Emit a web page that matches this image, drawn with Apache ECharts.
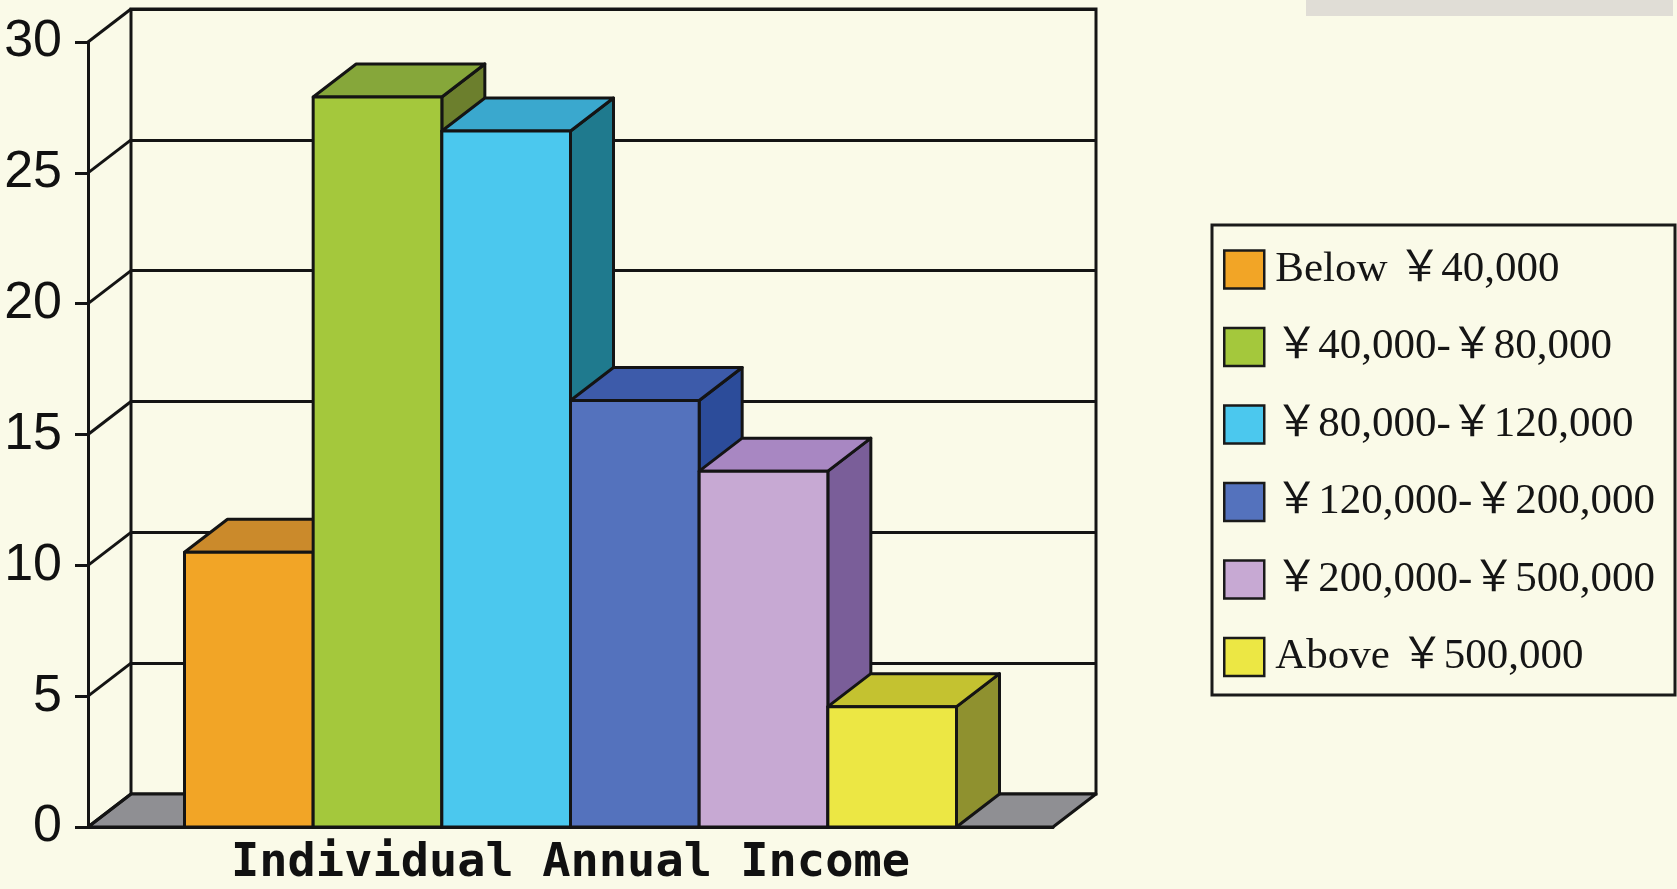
<!DOCTYPE html>
<html>
<head>
<meta charset="utf-8">
<style>
  html, body { margin: 0; padding: 0; background: #FAFAE8; }
  #chart { width: 1677px; height: 889px; }
</style>
<script src="https://cdn.jsdelivr.net/npm/echarts@6/dist/echarts.min.js"></script>
</head>
<body>
<div id="chart"></div>
<script>
// Share of respondents (%) by individual annual income bracket
const categories = ['Individual Annual Income'];
const seriesNames = [
  'Below ￥40,000',
  '￥40,000-￥80,000',
  '￥80,000-￥120,000',
  '￥120,000-￥200,000',
  '￥200,000-￥500,000',
  'Above ￥500,000'
];
const shares = [10.5, 27.9, 26.6, 16.3, 13.6, 4.6];
const yTicks = [0, 5, 10, 15, 20, 25, 30];

// face colours of each box: front, top, right side
const frontColors = ['#F2A526', '#A4C83C', '#4BC8EE', '#5472BD', '#C7A9D3', '#ECE744'];
const topColors   = ['#CB8A2B', '#86A73A', '#3AA8CE', '#3D5BAA', '#A887C2', '#C4C230'];
const sideColors  = ['#A86E22', '#6C7F2D', '#1F7A8E', '#2C4C9A', '#7A5E99', '#8F912F'];

// oblique depth of the plot box (pixels)
const DX = 43, DY = -33;
const INK = '#141414';
const LW = 3;
const BAR_GAP = 0.2;

const chart = echarts.init(document.getElementById('chart'), null, { renderer: 'canvas' });

function boxRenderer(k) {
  return function (params, api) {
    const cat = api.value(0);
    const v = api.value(1);
    const topPt = api.coord([cat, v]);
    const basePt = api.coord([cat, 0]);
    const band = api.size([1, 0])[0];
    const total = band * (1 - BAR_GAP);
    const w = total / seriesNames.length;
    const x0 = topPt[0] - total / 2 + k * w;
    const yt = topPt[1], yb = basePt[1];
    const stroke = { stroke: INK, lineWidth: LW, lineJoin: 'round' };
    return {
      type: 'group',
      children: [
        {
          type: 'polygon',
          shape: { points: [[x0 + w, yt], [x0 + w + DX, yt + DY], [x0 + w + DX, yb + DY], [x0 + w, yb]] },
          style: Object.assign({ fill: sideColors[k] }, stroke)
        },
        {
          type: 'polygon',
          shape: { points: [[x0, yt], [x0 + w, yt], [x0 + w + DX, yt + DY], [x0 + DX, yt + DY]] },
          style: Object.assign({ fill: topColors[k] }, stroke)
        },
        {
          type: 'rect',
          shape: { x: x0, y: yt, width: w, height: yb - yt },
          style: Object.assign({ fill: frontColors[k] }, stroke)
        }
      ]
    };
  };
}

// floor and the slanted lines joining front ticks to the back wall
function frameRenderer(params, api) {
  const cs = params.coordSys;
  const v = api.value(1);
  const p = api.coord([0, v]);
  const x = cs.x, y = p[1];
  const children = [];
  if (v === 0) {
    children.push({
      type: 'polygon',
      shape: { points: [[x, y], [x + cs.width, y], [x + cs.width + DX, y + DY], [x + DX, y + DY]] },
      style: { fill: '#8F8F93', stroke: INK, lineWidth: LW, lineJoin: 'round' }
    });
  }
  children.push({
    type: 'line',
    shape: { x1: x, y1: y, x2: x + DX, y2: y + DY },
    style: { stroke: INK, lineWidth: LW }
  });
  return { type: 'group', children: children };
}

const boxSeries = seriesNames.map(function (name, k) {
  return {
    name: name,
    type: 'custom',
    xAxisIndex: 0,
    yAxisIndex: 0,
    z: 3 + k,
    itemStyle: { color: frontColors[k] },
    renderItem: boxRenderer(k),
    encode: { x: 0, y: 1 },
    data: [[0, shares[k]]]
  };
});

const option = {
  animation: false,
  backgroundColor: '#FAFAE8',
  grid: [
    { left: 88, right: 624, top: 42, bottom: 62, show: false },
    { left: 131, right: 581, top: 9, bottom: 95, show: true,
      borderColor: INK, borderWidth: LW, backgroundColor: 'transparent' }
  ],
  xAxis: [
    {
      type: 'category', gridIndex: 0, data: categories,
      axisLine: { lineStyle: { color: INK, width: LW } },
      axisTick: { show: false },
      axisLabel: { fontFamily: 'DejaVu Sans Mono', fontWeight: 'bold', fontSize: 47, color: '#111', margin: 13 }
    },
    {
      type: 'category', gridIndex: 1, data: categories,
      axisLine: { show: false }, axisTick: { show: false }, axisLabel: { show: false }
    }
  ],
  yAxis: [
    {
      type: 'value', gridIndex: 0, min: 0, max: 30, interval: 5,
      axisLine: { show: true, lineStyle: { color: INK, width: LW } },
      axisTick: { show: true, length: 13, lineStyle: { color: INK, width: LW } },
      splitLine: { show: false },
      axisLabel: { fontFamily: 'Liberation Sans', fontSize: 52, color: '#111', margin: 26 }
    },
    {
      type: 'value', gridIndex: 1, min: 0, max: 30, interval: 5,
      axisLine: { show: false }, axisTick: { show: false }, axisLabel: { show: false },
      splitLine: { show: true, lineStyle: { color: INK, width: LW } }
    }
  ],
  legend: {
    orient: 'vertical',
    left: 1223,
    top: 248,
    padding: 0,
    itemWidth: 40,
    itemHeight: 38,
    itemGap: 34.5,
    selectedMode: false,
    textStyle: {
      fontFamily: "'Liberation Serif', 'Noto Sans CJK SC'",
      fontSize: 43,
      lineHeight: 38,
      color: '#151515',
      padding: [0, 0, 0, 6]
    },
    data: seriesNames.map(function (name, k) {
      return {
        name: name,
        icon: 'rect',
        itemStyle: { color: frontColors[k], borderColor: '#1a1a1a', borderWidth: 2.5 }
      };
    })
  },
  graphic: [
    {
      type: 'rect', z: 0,
      shape: { x: 1306, y: 0, width: 367, height: 16 },
      style: { fill: '#E0DDD6' }
    },
    {
      type: 'rect', z: 0,
      shape: { x: 1212, y: 225, width: 463, height: 470 },
      style: { fill: '#FAFAE8', stroke: '#1a1a1a', lineWidth: LW }
    }
  ],
  series: [
    {
      name: 'frame',
      type: 'custom',
      xAxisIndex: 0,
      yAxisIndex: 0,
      z: 2,
      silent: true,
      renderItem: frameRenderer,
      encode: { x: 0, y: 1 },
      data: yTicks.map(function (t) { return [0, t]; })
    }
  ].concat(boxSeries)
};

chart.setOption(option);
</script>
</body>
</html>
